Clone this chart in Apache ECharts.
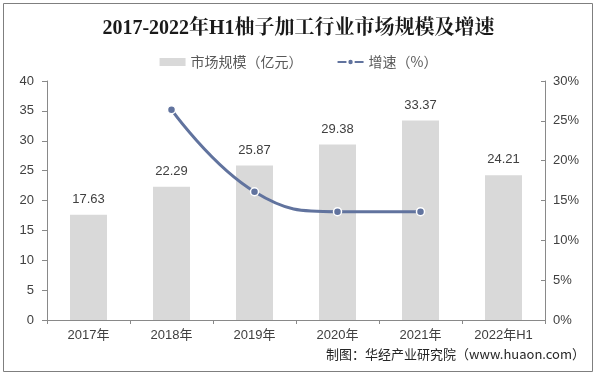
<!DOCTYPE html>
<html>
<head>
<meta charset="utf-8">
<script src="https://cdn.jsdelivr.net/npm/echarts@6/dist/echarts.min.js"></script>
<style>
  html, body { margin: 0; padding: 0; background: #fff; }
  #chart { width: 597px; height: 376px; }
</style>
</head>
<body>
<div id="chart"></div>
<script>
// 数据
const years = ['2017年', '2018年', '2019年', '2020年', '2021年', '2022年H1']
const scale = [17.63, 22.29, 25.87, 29.38, 33.37, 24.21] // 亿元
const growth = [null, 26.4, 16.1, 13.6, 13.6, null] // %

const textColor = '#404040'
const axisColor = '#898989'
const lineColor = '#61739e'
const sansFont = 'Arial, "Liberation Sans", "Noto Sans CJK SC", sans-serif'

const dom = echarts.init(document.getElementById('chart'))
const option = {
  animation: false,
  graphic: [
    {
      type: 'rect',
      shape: { x: 3.5, y: 3.5, width: 589, height: 368 },
      style: { fill: 'none', stroke: '#7f7f7f', lineWidth: 1 }
    },
    {
      type: 'text',
      right: 12,
      top: 348,
      style: {
        text: '制图：华经产业研究院（www.huaon.com）',
        font: '13px "Noto Sans CJK SC", sans-serif',
        fill: '#262626'
      }
    }
  ],
  title: {
    text: '2017-2022年H1柚子加工行业市场规模及增速',
    left: 'center',
    top: 14,
    textStyle: {
      fontFamily: '"Liberation Serif", "Noto Serif CJK SC", "Noto Sans CJK SC", serif',
      fontSize: 20,
      fontWeight: 'bold',
      color: '#1a1a1a'
    }
  },
  legend: {
    top: 50,
    left: 'center',
    itemGap: 34,
    itemWidth: 26,
    itemHeight: 8,
    textStyle: { fontSize: 14, color: '#595959', fontFamily: '"Noto Sans CJK SC", sans-serif' },
    data: [
      { name: '市场规模（亿元）', icon: 'rect' },
      { name: '增速（%）' }
    ]
  },
  grid: {
    left: 47,
    right: 52,
    top: 81,
    bottom: 56,
    containLabel: false
  },
  xAxis: {
    type: 'category',
    data: years,
    axisLine: { lineStyle: { color: axisColor } },
    axisTick: { show: true, length: 4, lineStyle: { color: axisColor } },
    axisLabel: { color: textColor, fontSize: 13, margin: 9, fontFamily: sansFont }
  },
  yAxis: [
    {
      type: 'value',
      min: 0,
      max: 40,
      interval: 5,
      axisLine: { show: true, lineStyle: { color: axisColor } },
      axisTick: { show: true, length: 5, lineStyle: { color: axisColor } },
      splitLine: { show: false },
      axisLabel: { color: textColor, fontSize: 13, margin: 13, fontFamily: sansFont }
    },
    {
      type: 'value',
      min: 0,
      max: 30,
      interval: 5,
      axisLine: { show: true, lineStyle: { color: axisColor } },
      axisTick: { show: true, inside: true, length: 4, lineStyle: { color: axisColor } },
      splitLine: { show: false },
      axisLabel: { color: textColor, fontSize: 13, margin: 8, formatter: '{value}%', fontFamily: sansFont }
    }
  ],
  series: [
    {
      name: '市场规模（亿元）',
      type: 'bar',
      barWidth: 37,
      yAxisIndex: 0,
      itemStyle: { color: '#d9d9d9' },
      label: {
        show: true,
        position: 'top',
        distance: 9,
        color: textColor,
        fontSize: 13,
        fontFamily: sansFont
      },
      data: scale
    },
    {
      name: '增速（%）',
      type: 'line',
      yAxisIndex: 1,
      smooth: 0.45,
      symbol: 'circle',
      symbolSize: 8,
      lineStyle: { color: lineColor, width: 3 },
      itemStyle: { color: lineColor, borderColor: '#fff', borderWidth: 1.5 },
      data: growth
    }
  ]
}
dom.setOption(option)
</script>
</body>
</html>
